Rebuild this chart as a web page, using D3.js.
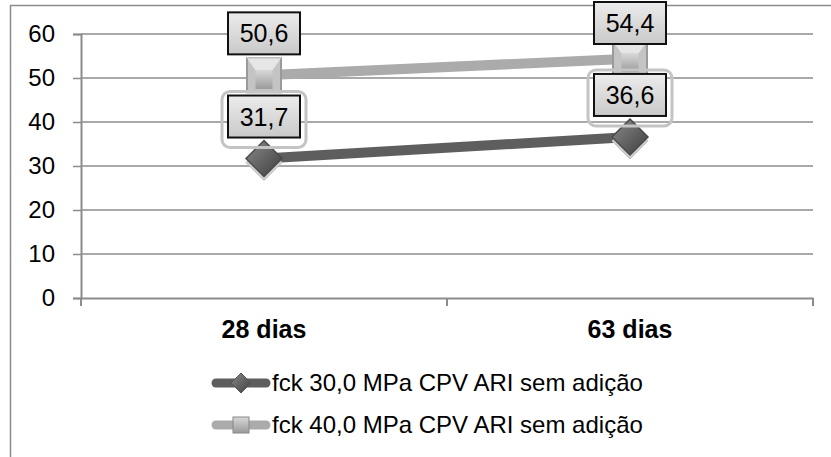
<!DOCTYPE html>
<html>
<head>
<meta charset="utf-8">
<script src="https://cdn.jsdelivr.net/npm/d3@7"></script>
<style>
  body { margin: 0; background: #fff; }
  svg { font-family: "Liberation Sans", Arial, sans-serif; }
</style>
</head>
<body>
<svg id="chart" width="831" height="457"></svg>
<script>
var categories = ["28 dias", "63 dias"]
var seriesNames = ["fck 30,0 MPa CPV ARI sem adição", "fck 40,0 MPa CPV ARI sem adição"]
var fck30 = [31.7, 36.6]
var fck40 = [50.6, 54.4]
var yTicks = [0, 10, 20, 30, 40, 50, 60]

var svg = d3.select("#chart")
var margin = {top: 34, right: 18, bottom: 159, left: 81}
var width = 831 - margin.left - margin.right,
    height = 457 - margin.top - margin.bottom

var x = d3.scaleBand().domain(categories).range([margin.left, margin.left + width])
var y = d3.scaleLinear().domain([0, 60]).range([margin.top + height, margin.top])

var defs = svg.append("defs")
var lg = defs.append("linearGradient").attr("id", "lbl").attr("x1", 0).attr("y1", 0).attr("x2", 0).attr("y2", 1)
lg.append("stop").attr("offset", "0%").attr("stop-color", "#ececec")
lg.append("stop").attr("offset", "100%").attr("stop-color", "#c9c9c9")
var dg = defs.append("linearGradient").attr("id", "dia").attr("x1", 0).attr("y1", 0).attr("x2", 1).attr("y2", 1)
dg.append("stop").attr("offset", "0%").attr("stop-color", "#8a8a8a")
dg.append("stop").attr("offset", "100%").attr("stop-color", "#3e3e3e")
var sg = defs.append("linearGradient").attr("id", "sq").attr("x1", 0).attr("y1", 0).attr("x2", 0).attr("y2", 1)
sg.append("stop").attr("offset", "0%").attr("stop-color", "#d8d8d8")
sg.append("stop").attr("offset", "100%").attr("stop-color", "#9a9a9a")

// outer frame
svg.append("rect").attr("x", 10.5).attr("y", 5.5).attr("width", 900).attr("height", 600)
  .attr("fill", "none").attr("stroke", "#8c8c8c").attr("stroke-width", 1.5)

// grid + y axis
var yAxis = d3.axisLeft(y).tickValues(yTicks).tickSize(8).tickPadding(18)
  .tickFormat(d3.format("d"))
var gy = svg.append("g").attr("transform", "translate(" + margin.left + ",0)").call(yAxis)
gy.attr("font-family", null).attr("font-size", null)
gy.select(".domain").attr("stroke", "#8c8c8c").attr("stroke-width", 2)
gy.selectAll(".tick line").attr("stroke", "#8c8c8c").attr("stroke-width", 1.5)
gy.selectAll(".tick text").attr("font-size", 24).attr("fill", "#000")

svg.append("g").selectAll("line").data(yTicks.filter(function(d){ return d > 0 }))
  .enter().append("line")
  .attr("x1", margin.left).attr("x2", margin.left + width)
  .attr("y1", function(d){ return y(d) }).attr("y2", function(d){ return y(d) })
  .attr("stroke", "#8c8c8c").attr("stroke-width", 1.5)

// x axis
var xAxis = d3.axisBottom(x).tickSize(0).tickPadding(22)
var gx = svg.append("g").attr("transform", "translate(0," + y(0) + ")").call(xAxis)
gx.attr("font-family", null).attr("font-size", null)
gx.select(".domain").attr("stroke", "#8c8c8c").attr("stroke-width", 2)
gx.selectAll(".tick text").attr("font-size", 25).attr("font-weight", "bold").attr("fill", "#000")
// category boundary ticks
var bounds = [margin.left, margin.left + x.step(), margin.left + 2 * x.step()]
svg.append("g").selectAll("line").data(bounds).enter().append("line")
  .attr("x1", function(d){ return d }).attr("x2", function(d){ return d })
  .attr("y1", y(0)).attr("y2", y(0) + 8)
  .attr("stroke", "#8c8c8c").attr("stroke-width", 2)

function cx(i){ return x(categories[i]) + x.bandwidth() / 2 }

var line = d3.line().x(function(d, i){ return cx(i) }).y(function(d){ return y(d) })

// series lines
svg.append("path").datum(fck40).attr("d", line).attr("fill", "none")
  .attr("stroke", "#ababab").attr("stroke-width", 10).attr("stroke-linecap", "round")
svg.append("path").datum(fck30).attr("d", line).attr("fill", "none")
  .attr("stroke", "#5e5e5e").attr("stroke-width", 10).attr("stroke-linecap", "round")

// markers
function square(g, px, py, s){
  g.append("rect").attr("x", px - s).attr("y", py - s).attr("width", 2 * s).attr("height", 2 * s)
    .attr("fill", "#c4c4c4").attr("stroke", "#9a9a9a").attr("stroke-width", 2)
  g.append("path").attr("d", "M" + (px - s) + "," + (py - s) + "L" + (px - s * 0.5) + "," + (py - s * 0.3)
      + "L" + (px + s * 0.5) + "," + (py - s * 0.3) + "L" + (px + s) + "," + (py - s) + "Z")
    .attr("fill", "#e6e6e6")
  g.append("rect").attr("x", px - s * 0.5).attr("y", py - s * 0.3).attr("width", s).attr("height", s * 1.1)
    .attr("fill", "url(#sq)")
}
function diamond(g, px, py, s){
  g.append("path").attr("d", "M" + px + "," + (py - s + 4) + "L" + (px + s) + "," + (py + 4) + "L" + px + "," + (py + s + 4)
      + "L" + (px - s) + "," + (py + 4) + "Z")
    .attr("fill", "#cfcfcf").attr("stroke", "#bdbdbd").attr("stroke-width", 1)
  g.append("path").attr("d", "M" + px + "," + (py - s) + "L" + (px + s) + "," + py + "L" + px + "," + (py + s)
      + "L" + (px - s) + "," + py + "Z")
    .attr("fill", "url(#dia)").attr("stroke", "#4a4a4a").attr("stroke-width", 1.5)
}

var mk = svg.append("g")
fck40.forEach(function(v, i){ square(mk, cx(i), y(v), 17) })
fck30.forEach(function(v, i){ diamond(mk, cx(i), y(v), 18) })

// data labels
function label(g, px, py, txt, halo){
  var w = 72, h = 42, by = Math.max(py - 21 - h, 2)
  if (halo) {
    g.append("rect").attr("x", px - w / 2 - 6).attr("y", by - 4).attr("width", w + 12).attr("height", h + 14)
      .attr("rx", 8).attr("fill", "none").attr("stroke", "#c4c4c4").attr("stroke-width", 3)
  }
  g.append("rect").attr("x", px - w / 2).attr("y", by).attr("width", w).attr("height", h)
    .attr("fill", "url(#lbl)").attr("stroke", "#111").attr("stroke-width", 2)
  g.append("text").attr("x", px).attr("y", by + h / 2 + 9).attr("text-anchor", "middle")
    .attr("font-size", 25).attr("fill", "#000").text(txt)
}
var fmt = function(v){ return d3.format(".1f")(v).replace(".", ",") }
var lb = svg.append("g")
fck40.forEach(function(v, i){ label(lb, cx(i), y(v), fmt(v), false) })
fck30.forEach(function(v, i){ label(lb, cx(i), y(v), fmt(v), true) })

// legend
var legY = [383, 425]
var lgd = svg.append("g")
seriesNames.forEach(function(name, i){
  var col = i === 0 ? "#5e5e5e" : "#ababab"
  lgd.append("line").attr("x1", 216).attr("x2", 266).attr("y1", legY[i]).attr("y2", legY[i])
    .attr("stroke", col).attr("stroke-width", 9).attr("stroke-linecap", "round")
  if (i === 0) {
    lgd.append("path").attr("d", "M241," + (legY[i] - 10) + "L251," + legY[i] + "L241," + (legY[i] + 10) + "L231," + legY[i] + "Z")
      .attr("fill", "url(#dia)").attr("stroke", "#555")
  } else {
    lgd.append("rect").attr("x", 233).attr("y", legY[i] - 8).attr("width", 16).attr("height", 16)
      .attr("fill", "url(#sq)").attr("stroke", "#888")
  }
  lgd.append("text").attr("x", 272).attr("y", legY[i] + 8).attr("font-size", 24).attr("fill", "#000").text(name)
})
</script>
</body>
</html>
